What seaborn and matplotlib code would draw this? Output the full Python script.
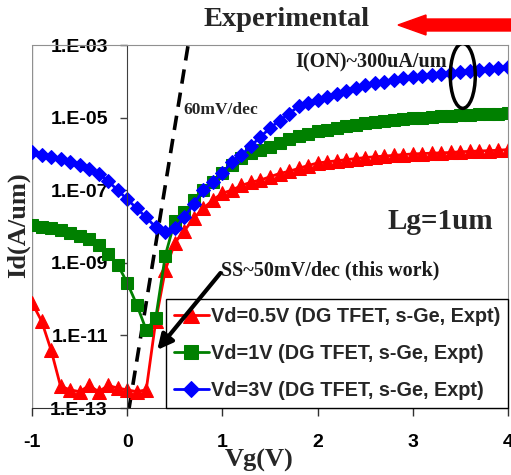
import numpy as np
import pandas as pd
import matplotlib
matplotlib.use("Agg")
import matplotlib.pyplot as plt
from matplotlib.patches import Ellipse, FancyArrow
from matplotlib.ticker import FixedLocator, FuncFormatter, NullLocator
import seaborn as sns

# Gate voltage sweep (V), 0.1 V steps
vg = np.round(np.arange(-1.0, 4.0001, 0.1), 2)

# log10 of drain current (A/um)
log_id_05v = [-10.1, -10.6, -11.4, -12.4, -12.5, -12.55, -12.38, -12.55, -12.38, -12.45,
              -12.5, -12.55, -12.5, -10.6, -9.2, -8.45, -8.12, -7.77, -7.5, -7.27,
              -7.08, -7.0, -6.87, -6.78, -6.72, -6.63, -6.54, -6.48, -6.4, -6.32,
              -6.25, -6.22, -6.19, -6.16, -6.13, -6.1, -6.08, -6.06, -6.04, -6.02,
              -6.0, -5.99, -5.98, -5.97, -5.96, -5.94, -5.93, -5.92, -5.91, -5.9, -5.88]
log_id_1v = [-7.96, -8.0, -8.05, -8.1, -8.18, -8.27, -8.35, -8.5, -8.75, -9.05,
             -9.55, -10.15, -10.85, -10.52, -8.8, -7.85, -7.6, -7.28, -7.0, -6.77,
             -6.53, -6.3, -6.11, -5.98, -5.9, -5.8, -5.7, -5.6, -5.52, -5.45,
             -5.38, -5.33, -5.28, -5.24, -5.2, -5.16, -5.13, -5.1, -5.07, -5.04,
             -5.02, -5.0, -4.98, -4.96, -4.95, -4.93, -4.92, -4.91, -4.9, -4.89, -4.88]
log_id_3v = [-5.95, -6.02, -6.08, -6.15, -6.22, -6.3, -6.42, -6.55, -6.75, -7.0,
             -7.25, -7.5, -7.75, -8.02, -8.15, -8.05, -7.74, -7.38, -7.0, -6.78,
             -6.53, -6.22, -6.03, -5.78, -5.53, -5.29, -5.08, -4.9, -4.68, -4.6,
             -4.52, -4.43, -4.34, -4.26, -4.18, -4.1, -4.06, -4.01, -3.97, -3.92,
             -3.88, -3.85, -3.82, -3.79, -3.76, -3.74, -3.71, -3.68, -3.66, -3.63, -3.61]

# 60 mV/dec reference line end points
vg_ref = [0.02, 0.64]
id_ref = [1e-13, 1e-3]

labels = ["Vd=0.5V (DG TFET, s-Ge, Expt)",
          "Vd=1V (DG TFET, s-Ge, Expt)",
          "Vd=3V (DG TFET, s-Ge, Expt)"]

sns.set_style("white")
plt.rcParams['font.family'] = ['Liberation Sans', 'DejaVu Sans']

fig = plt.figure(figsize=(5.11, 4.75), dpi=100)
ax = fig.add_axes([32 / 511, 67 / 475, 476 / 511, 363 / 475])

series = [
    (log_id_05v, labels[0], "#ff0000", "^", 10),
    (log_id_1v, labels[1], "#008000", "s", 8.5),
    (log_id_3v, labels[2], "#0000ff", "D", 7.5),
]
for logs, lab, col, mk, ms in series:
    df = pd.DataFrame({"Vg": vg, "Id": 10.0 ** np.array(logs)})
    sns.lineplot(data=df, x="Vg", y="Id", ax=ax, color=col, marker=mk,
                 markersize=ms, markeredgecolor=col, linewidth=2, label=lab)

ax.plot(vg_ref, id_ref, color="black", lw=2.6, dashes=(4, 2.5), zorder=1)

ax.set_yscale("log")
ax.set_xlim(-1, 4)
ax.set_ylim(1e-13, 1e-3)
ax.set_xlabel("")
ax.set_ylabel("")

ax.yaxis.set_major_locator(FixedLocator([1e-13, 1e-11, 1e-9, 1e-7, 1e-5, 1e-3]))
ax.yaxis.set_minor_locator(NullLocator())
ax.yaxis.set_major_formatter(FuncFormatter(lambda v, p: f"1.E{int(round(np.log10(v))):03d}"))
ax.set_xticks([-1, 0, 1, 2, 3, 4])
ax.set_xticklabels(["-1", "0", "1", "2", "3", "4"])

ax.spines['left'].set_position(('data', 0))
ax.spines['left'].set_color("#404040")
ax.spines['bottom'].set_color("#303030")
for s in ['top', 'right']:
    ax.spines[s].set_color("#909090")
    ax.spines[s].set_linewidth(0.8)
ax.axvline(-1, color="#909090", lw=1, zorder=0)

ax.tick_params(axis='y', direction='out', length=5, width=1, pad=9, left=True,
               labelsize=14, colors="#404040", labelcolor="black")
ax.tick_params(axis='x', direction='out', length=6, width=1, pad=13, bottom=True,
               labelsize=14, colors="#303030", labelcolor="black")
for t in ax.get_xticklabels() + ax.get_yticklabels():
    t.set_fontweight("bold")

leg = ax.legend(loc="lower right", bbox_to_anchor=(1, 0), borderaxespad=0,
                prop={"family": "Liberation Sans", "weight": "bold", "size": 14.3},
                frameon=True, fancybox=False, framealpha=1, edgecolor="black",
                handlelength=1.75, handletextpad=0.1, labelspacing=0.9,
                borderpad=0.4, markerscale=1.15)
leg.get_frame().set_linewidth(1)

serif = {"family": "Liberation Serif", "weight": "bold"}

ax.text(0.317, 0.821, "60mV/dec", transform=ax.transAxes, ha="left", va="center",
        fontsize=12.5, **serif)
ax.text(0.872, 0.953, "I(ON)~300uA/um", transform=ax.transAxes, ha="right", va="center",
        fontsize=14.5, color="#1a1a1a", **serif)
ax.add_patch(Ellipse((0.905, 0.915), 0.0525, 0.179, transform=ax.transAxes,
                     fill=False, edgecolor="black", lw=2.5, zorder=5))
ax.text(0.746, 0.515, "Lg=1um", transform=ax.transAxes, ha="left", va="center",
        fontsize=21, **serif)
ax.text(0.99, 10 ** -9.2, "SS~50mV/dec (this work)", ha="left", va="center",
        fontsize=14.5, color="#1a1a1a", **serif)
ax.annotate("", xy=(0.316, 10 ** -11.4), xytext=(0.98, 10 ** -9.28),
            arrowprops=dict(arrowstyle="-|>,head_length=0.9,head_width=0.45",
                            lw=3, color="black", shrinkA=0, shrinkB=0), zorder=6)

fig.text(287 / 511, 1 - 20 / 475, "Experimental", ha="center", va="center",
         fontsize=20.5, **serif)
fig.add_artist(FancyArrow(1.01, 1 - 25 / 475, -(1.01 - 398 / 511), 0,
                          width=12 / 475, head_width=20 / 475, head_length=28 / 511,
                          length_includes_head=True, color="#ff0000",
                          transform=fig.transFigure))
fig.text(18 / 511, 1 - 225 / 475, "Id(A/um)", rotation=90, ha="center", va="center",
         fontsize=19, **serif)
fig.text(259 / 511, 1 - 460 / 475, "Vg(V)", ha="center", va="center",
         fontsize=19, **serif)

fig.savefig("out.png", dpi=100)
